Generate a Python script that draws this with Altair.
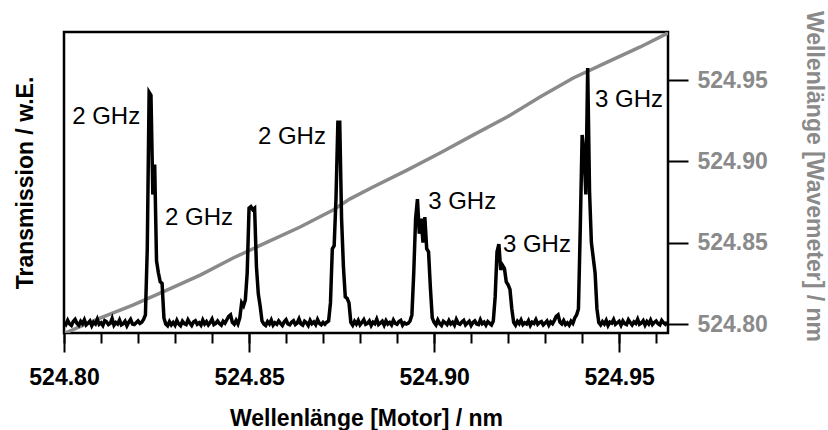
import altair as alt
import pandas as pd

FONT = "Liberation Sans"
GRAY = "#8a8a8a"

# ---- data -------------------------------------------------------------
motor_start = 524.80
motor_step = 0.0005
transmission = [
    3.5, 2.8, 4.2, 3.0, 2.5, 3.8, 4.5, 3.2, 2.6, 3.9,
    3.1, 4.4, 2.7, 3.3, 4.0, 2.4, 3.6, 3.0, 4.6, 2.9,
    3.4, 2.5, 4.1, 3.7, 2.8, 3.2, 4.8, 2.6, 3.5, 3.0,
    4.3, 2.7, 3.1, 3.9, 2.4, 3.6, 4.5, 3.0, 2.8, 3.4,
    4.0, 3.2, 3.6, 4.5, 6.0, 28.0, 80.0, 79.0, 46.0, 56.0,
    24.0, 20.0, 17.0, 16.5, 5.0, 3.0, 2.4, 3.8, 2.7, 3.5,
    2.6, 4.2, 3.0, 2.4, 3.9, 3.1, 2.8, 4.4, 3.3, 2.5,
    3.7, 4.1, 2.9, 3.4, 2.6, 4.3, 3.0, 3.8, 2.7, 3.5,
    4.6, 2.8, 3.2, 4.0, 3.1, 2.6, 3.9, 3.3, 4.4, 5.5,
    6.0, 3.5, 2.9, 4.2, 3.0, 5.0, 10.0, 9.0, 11.0, 20.0,
    41.5, 42.0, 41.0, 41.5, 22.0, 13.0, 9.0, 4.0, 3.0, 2.5,
    3.8, 3.0, 4.3, 2.6, 3.4, 2.9, 4.0, 3.2, 2.5, 3.7,
    4.4, 3.0, 2.7, 3.6, 4.1, 2.8, 3.3, 4.7, 3.0, 2.6,
    3.9, 3.4, 2.5, 4.2, 3.1, 3.7, 2.8, 4.5, 3.2, 2.7,
    3.5, 2.9, 3.6, 4.0, 10.0, 28.0, 29.0, 45.0, 70.0, 70.0,
    38.0, 22.0, 12.0, 11.5, 10.0, 3.5, 2.6, 3.9, 3.0, 4.2,
    2.7, 3.5, 4.4, 2.9, 3.2, 4.0, 2.5, 3.6, 3.1, 4.6,
    2.8, 3.3, 3.9, 2.6, 4.1, 3.0, 3.5, 2.7, 4.3, 3.2,
    2.9, 3.8, 4.2, 2.6, 3.4, 3.0, 3.2, 4.0, 6.0, 20.0,
    38.0, 44.5, 33.0, 38.0, 30.0, 38.5, 28.0, 27.0, 15.0, 5.0,
    3.5, 2.7, 4.3, 3.1, 2.5, 3.9, 3.4, 2.8, 4.1, 3.0,
    3.6, 2.6, 4.5, 3.2, 2.9, 3.7, 4.2, 2.7, 3.3, 3.9,
    2.5, 3.5, 4.0, 3.0, 2.8, 4.4, 3.1, 3.6, 2.6, 3.8,
    3.2, 2.7, 4.0, 12.0, 27.0, 29.5, 21.0, 22.5, 21.5, 17.0,
    16.0, 14.5, 8.0, 3.5, 2.6, 3.9, 3.1, 4.3, 2.8, 3.4,
    3.0, 4.1, 2.5, 3.6, 3.2, 4.4, 2.9, 3.5, 3.8, 2.7,
    3.3, 4.0, 2.6, 3.7, 3.1, 4.2, 5.5, 6.0, 3.6, 3.0,
    4.1, 2.8, 3.4, 2.6, 3.9, 3.2, 5.0, 6.0, 8.0, 35.0,
    65.8, 60.0, 46.0, 88.0, 47.0, 30.0, 25.0, 20.0, 8.0, 3.5,
    2.7, 3.8, 3.0, 4.2, 2.5, 3.6, 3.3, 4.5, 2.9, 3.4,
    3.9, 2.6, 4.0, 3.1, 2.8, 4.4, 3.5, 2.7, 3.7, 3.2,
    4.6, 2.9, 3.3, 4.1, 2.6, 3.8, 3.0, 4.3, 2.8, 3.5,
    4.0, 3.1, 2.7, 4.2, 3.4, 2.9, 3.6,
]

gray_motor = [
    524.8003, 524.8097, 524.8186, 524.8278, 524.8368, 524.8457, 524.8549,
    524.8638, 524.8727, 524.8773, 524.8835, 524.8927, 524.9016, 524.9105,
    524.9197, 524.9286, 524.9376, 524.9468, 524.9557, 524.9632,
]
gray_wavemeter = [
    524.7945, 524.8037, 524.8117, 524.8209, 524.8301, 524.8406, 524.8504,
    524.8597, 524.8701, 524.8770, 524.8843, 524.8947, 524.9052, 524.9162,
    524.9273, 524.9396, 524.9513, 524.9611, 524.9704, 524.9790,
]

ann_labels = ["2 GHz", "2 GHz", "2 GHz", "3 GHz", "3 GHz", "3 GHz"]
ann_motor = [524.8022, 524.8273, 524.8524, 524.8984, 524.9186, 524.9435]
ann_trans = [71.8, 38.2, 65.1, 43.5, 29.2, 77.4]

x_major = [524.80, 524.85, 524.90, 524.95]
x_minor = [524.80, 524.81, 524.82, 524.83, 524.84, 524.85, 524.86, 524.87,
           524.88, 524.89, 524.90, 524.91, 524.92, 524.93, 524.94, 524.95,
           524.96]
wm_ticks = [524.80, 524.85, 524.90, 524.95]

X_DOMAIN = [524.80, 524.9632]
T_DOMAIN = [0, 100]
WM_DOMAIN = [524.7945, 524.9796]

trace_df = pd.DataFrame({
    "motor": [round(motor_start + i * motor_step, 4) for i in range(len(transmission))],
    "T": transmission,
})
gray_df = pd.DataFrame({"motor": gray_motor, "wm": gray_wavemeter})
ann_df = pd.DataFrame({"motor": ann_motor, "T": ann_trans, "label": ann_labels})


def xscale():
    return alt.Scale(domain=X_DOMAIN, nice=False, zero=False)


def tscale():
    return alt.Scale(domain=T_DOMAIN, nice=False, zero=False)


gray = alt.Chart(gray_df).mark_line(color=GRAY, strokeWidth=3.5, clip=True).encode(
    x=alt.X("motor:Q", scale=xscale(), axis=alt.Axis(
        orient="bottom", values=x_minor, tickSize=10, tickWidth=2,
        tickColor="black", labels=False, domain=False, grid=False, title=None)),
    y=alt.Y("wm:Q", scale=alt.Scale(domain=WM_DOMAIN, nice=False, zero=False),
            axis=alt.Axis(
                orient="right", values=wm_ticks, format=".2f", tickSize=20,
                tickWidth=2, tickColor="black", labelColor=GRAY, labelFont=FONT,
                labelFontSize=23, labelFontWeight="bold", labelPadding=9,
                domain=False, grid=False, title="Wellenlänge [Wavemeter] / nm",
                titleColor=GRAY, titleFont=FONT, titleFontSize=23,
                titleFontWeight="bold", titlePadding=34, titleY=144)),
    order="motor:Q",
)

trace = alt.Chart(trace_df).mark_line(color="black", strokeWidth=3.5, clip=True).encode(
    x=alt.X("motor:Q", scale=xscale(), axis=alt.Axis(
        orient="bottom", values=x_major, format=".2f", tickSize=19, tickWidth=2,
        tickColor="black", labelColor="black", labelFont=FONT, labelFontSize=23,
        labelFontWeight="bold", labelPadding=14, labelFlush=False,
        domain=False, grid=False, title="Wellenlänge [Motor] / nm",
        titleColor="black", titleFont=FONT, titleFontSize=23,
        titleFontWeight="bold", titlePadding=18)),
    y=alt.Y("T:Q", scale=tscale(), axis=alt.Axis(
        orient="left", labels=False, ticks=False, domain=False, grid=False,
        title="Transmission / w.E.", titleColor="black", titleFont=FONT,
        titleFontSize=23, titleFontWeight="bold", titlePadding=27)),
    order="motor:Q",
)

texts = alt.Chart(ann_df).mark_text(
    align="left", baseline="middle", fontSize=24, font=FONT, color="black"
).encode(
    x=alt.X("motor:Q", scale=xscale(), axis=None),
    y=alt.Y("T:Q", scale=tscale(), axis=None),
    text="label:N",
)

chart = alt.layer(gray, trace, texts).resolve_scale(
    x="independent", y="independent"
).properties(
    width=604,
    height=301,
    padding={"left": 64, "top": 32, "right": 160, "bottom": 97},
    autosize=alt.AutoSizeParams(type="none"),
    background="white",
).configure_view(stroke="black", strokeWidth=2.5)

chart.save("out.html", embed_options={"renderer": "svg", "actions": False})
